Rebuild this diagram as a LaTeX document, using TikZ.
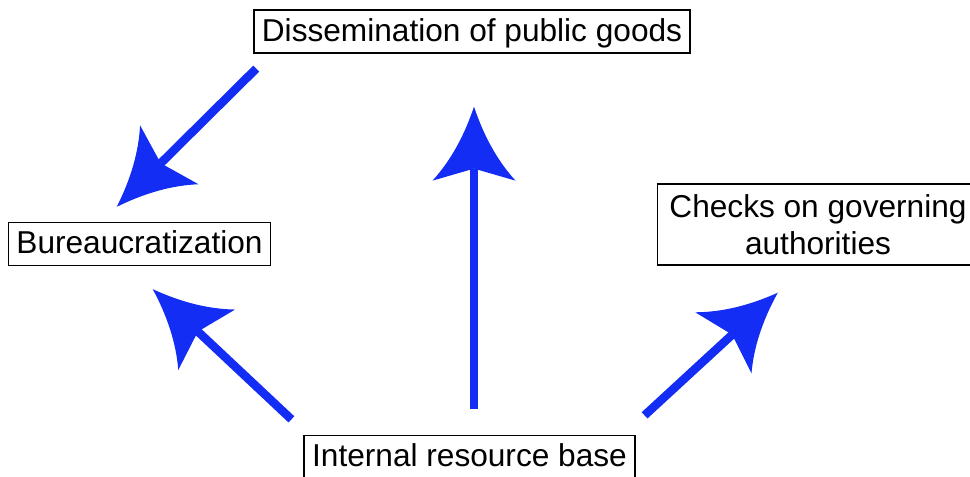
\documentclass[tikz,border=0pt]{standalone}
\usepackage{fontspec}
\setmainfont{Liberation Sans}
\definecolor{arrowblue}{RGB}{20,45,245}
% big arrow head with curved sides
\pgfarrowsdeclare{bigtip}{bigtip}
{\pgfarrowsleftextend{-0.24cm}\pgfarrowsrightextend{1.24cm}}
{
  \pgfpathmoveto{\pgfqpoint{1.24cm}{0cm}}
  \pgfpathquadraticcurveto{\pgfqpoint{0.34cm}{0.3cm}}{\pgfqpoint{-0.24cm}{0.83cm}}
  \pgfpathlineto{\pgfqpoint{0cm}{0cm}}
  \pgfpathlineto{\pgfqpoint{-0.24cm}{-0.83cm}}
  \pgfpathquadraticcurveto{\pgfqpoint{0.34cm}{-0.3cm}}{\pgfqpoint{1.24cm}{0cm}}
  \pgfpathclose
  \pgfusepathqfill
}
\begin{document}
\begin{tikzpicture}[
    box/.style={draw,line width=0.8pt,inner xsep=0.16cm,inner ysep=3.85pt,font=\fontsize{18}{21}\selectfont},
    oneline/.style={text height=14pt,text depth=2.7pt},
    arr/.style={-bigtip,arrowblue,line width=0.17cm}
  ]
        \useasboundingbox (0,0) rectangle (19.4,9.52);
        \node[box,oneline](diss)at(9.44,8.89){Dissemination of public goods};
        \node[box,oneline](bureau)at(2.79,4.64){Bureaucratization};
        \node[box,align=center,minimum height=1.62cm,minimum width=6.42cm](checks)at(16.36,5.03){Checks on governing\\authorities};
        \node[box,oneline](base)at(9.39,0.38){Internal resource base};
        %arrows out of the resource base
        \draw[arr]([xshift=0.09cm]base.north)--([xshift=0.09cm]base.north |- diss.south)[shorten <=0.52cm,shorten >=1.06cm];
        \draw[arr]([shift={(-0.24,0.31)}]base.north west)--([shift={(2.9,-0.46)}]bureau.south west);
        \draw[arr]([shift={(0.18,0.39)}]base.north east)--([shift={(2.42,-0.54)}]checks.south west);
        \draw[arr]([shift={(0.06,-0.3)}]diss.south west)--([shift={(2.18,0.3)}]bureau.north west);
    \end{tikzpicture}
\end{document}
